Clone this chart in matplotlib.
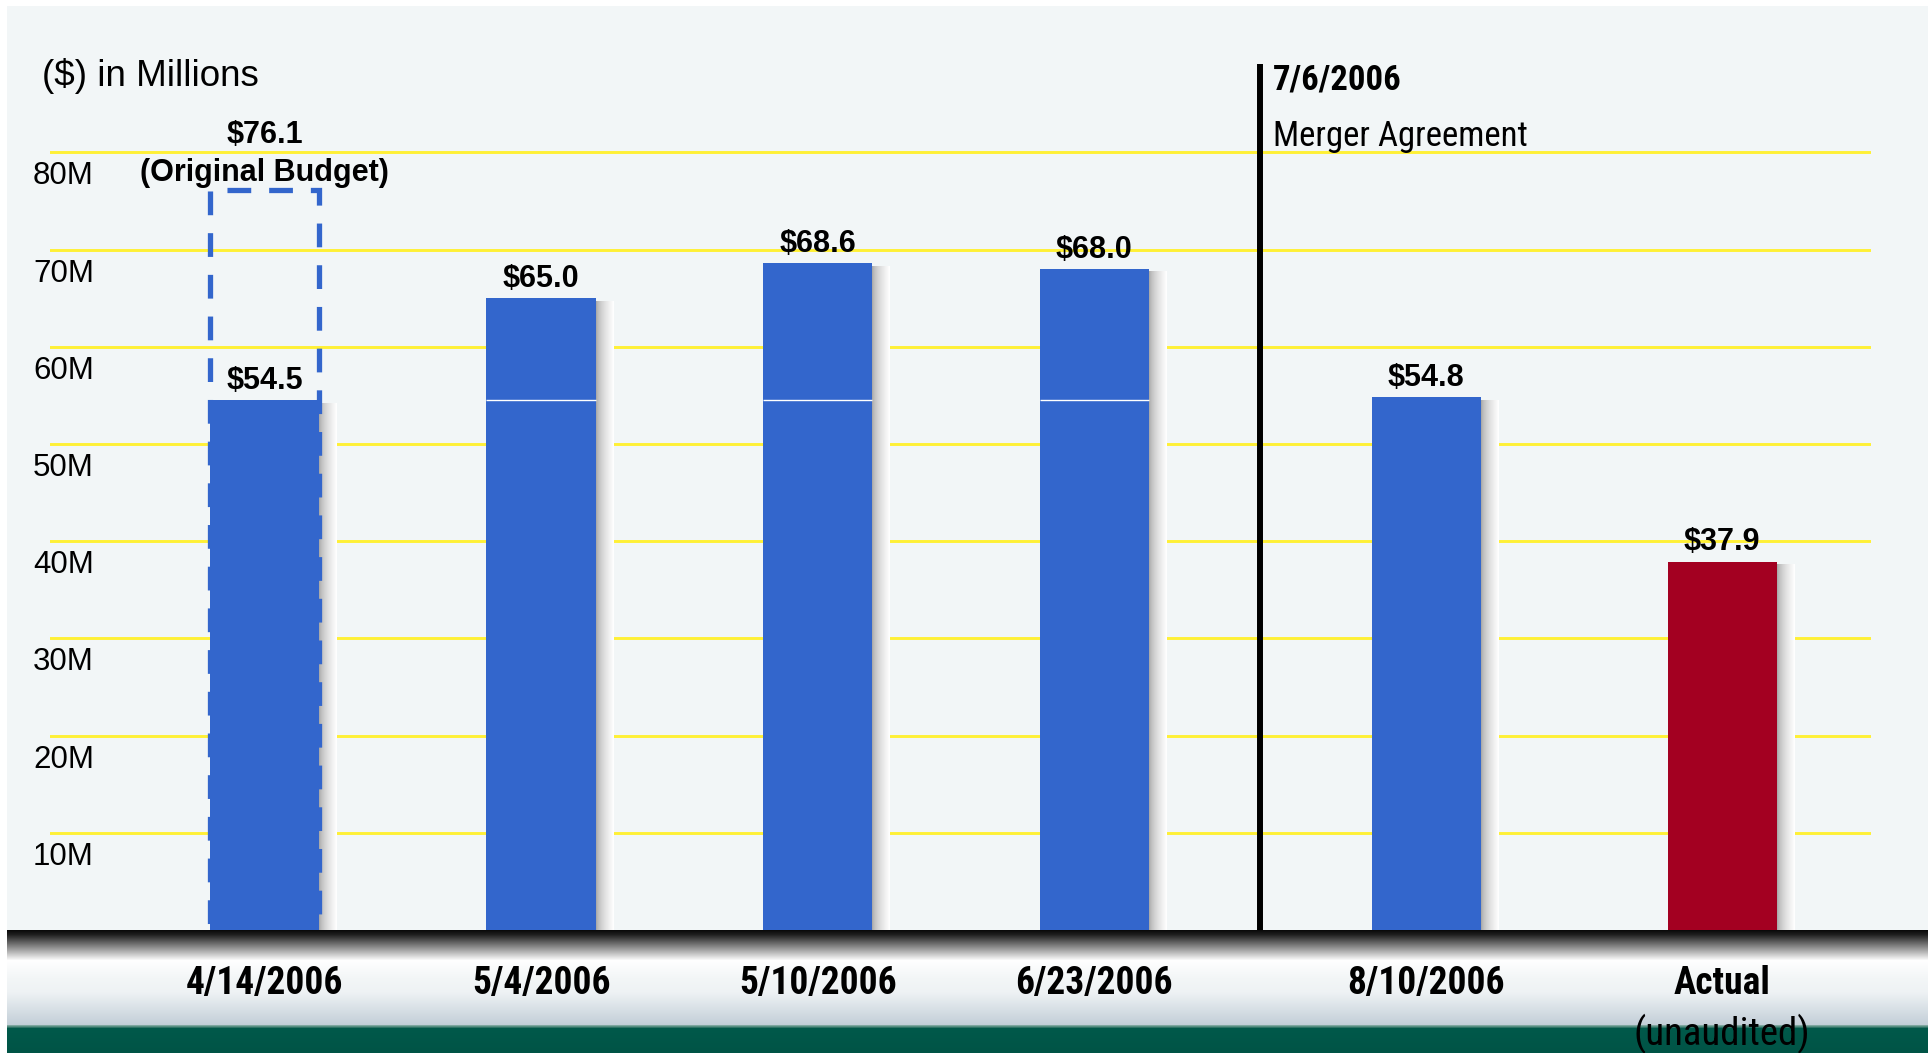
import numpy as np
import matplotlib.pyplot as plt
import matplotlib.transforms as mtransforms
from matplotlib.patches import Rectangle
from matplotlib.colors import LinearSegmentedColormap, to_rgb

# data
dates = ['4/14/2006', '5/4/2006', '5/10/2006', '6/23/2006', '8/10/2006', 'Actual']
values = [54.5, 65.0, 68.6, 68.0, 54.8, 37.9]
original_budget = 76.1
grid_vals = [10, 20, 30, 40, 50, 60, 70, 80]
tick_labels = ['10M', '20M', '30M', '40M', '50M', '60M', '70M', '80M']
merger_date = '7/6/2006'

# layout
x_pos = [0, 1, 2, 3, 4.2, 5.27]
merger_x = 3.6
bar_w = 0.395
bar_colors = ['#3366CC'] * 5 + ['#A30021']

NARROW = ['Roboto Condensed', 'PT Sans Narrow', 'Liberation Sans', 'DejaVu Sans']
SANS = ['Liberation Sans', 'DejaVu Sans']

W, H = 1933, 1053
fig = plt.figure(figsize=(W / 100, H / 100), dpi=100, facecolor='white')


def fbox(x0, y0, x1, y1):
    # pixel box measured from the top-left corner -> figure fraction
    return [x0 / W, 1 - y1 / H, (x1 - x0) / W, (y1 - y0) / H]


# light panel behind the chart
bg = fig.add_axes(fbox(7, 6, 1928, 930))
bg.set_facecolor('#F2F6F7')
bg.set_xticks([])
bg.set_yticks([])
for s in bg.spines.values():
    s.set_visible(False)

# bottom band: black shade -> white -> grey-blue -> green
stops = [(0, '#0A0A0A'), (4, '#1E1E1E'), (30, '#FFFFFF'), (48, '#F3F6F7'),
         (62, '#EEF2F4'), (94, '#C3CFD8'), (95, '#7FA89F'), (97, '#2F7566'),
         (98, '#00594A'), (123, '#005446')]
rows = np.arange(123)
sp = [p for p, c in stops]
cols = np.array([to_rgb(c) for p, c in stops])
grad = np.stack([np.interp(rows, sp, cols[:, k]) for k in range(3)], axis=-1)[:, None, :]
band = fig.add_axes(fbox(7, 930, 1928, 1053))
band.axis('off')
band.imshow(grad, aspect='auto', extent=[0, 1, 0, 1], interpolation='bilinear')
band.set_xlim(0, 1)
band.set_ylim(0, 1)

# main chart
ax = fig.add_axes(fbox(50, 64, 1871, 930))
ax.set_facecolor('none')
for s in ax.spines.values():
    s.set_visible(False)
ax.set_yticks(grid_vals)
ax.set_xticks([])
ax.yaxis.grid(True, color='#FFF035', lw=2.1)
ax.set_axisbelow(True)
ax.tick_params(length=0, labelleft=False, labelbottom=False)

ax.bar(x_pos, values, width=bar_w, color=bar_colors, zorder=3)

# soft shadow on the right of each bar
shadow_cmap = LinearSegmentedColormap.from_list('sh', ['#A4A4A4', '#FFFFFF'])
shade = (np.linspace(0, 1, 40) ** 0.6).reshape(1, -1)
for x, v in zip(x_pos, values):
    ax.imshow(shade, cmap=shadow_cmap, aspect='auto', interpolation='bilinear',
              extent=[x + bar_w / 2, x + bar_w / 2 + 0.062, 0, v - 0.3], zorder=2.5)

# thin seam where later estimates sit on top of the first one
for x in x_pos[1:4]:
    ax.hlines(values[0], x - bar_w / 2, x + bar_w / 2, color='white', lw=1, zorder=4)

# original budget dashed outline
ax.add_patch(Rectangle((x_pos[0] - bar_w / 2, 0), bar_w, original_budget, fill=False,
                       ec='#3366CC', lw=3.8, ls=(0, (4.5, 3.4)), zorder=4))
ax.annotate('(Original Budget)', (x_pos[0], original_budget), xytext=(0, 12.5),
            textcoords='offset points', ha='center', va='center', fontsize=22,
            fontweight='bold', family=SANS)
ax.annotate(f'${original_budget:.1f}', (x_pos[0], original_budget), xytext=(0, 40),
            textcoords='offset points', ha='center', va='center', fontsize=22,
            fontweight='bold', family=SANS)

for x, v in zip(x_pos, values):
    ax.annotate(f'${v:.1f}', (x, v), xytext=(0, 14), textcoords='offset points',
                ha='center', va='center', fontsize=22, fontweight='bold', family=SANS,
                zorder=5)

# merger agreement marker
ax.axvline(merger_x, color='black', lw=4.3, zorder=4)
mtrans = mtransforms.offset_copy(ax.transData, fig=fig, x=13, units='dots')
ax.text(merger_x, 87.5, merger_date, transform=mtrans, ha='left', va='center',
        fontsize=25, fontweight='bold', family=NARROW)
ax.text(merger_x, 81.6, 'Merger Agreement', transform=mtrans, ha='left', va='center',
        fontsize=25, family=NARROW)

# y labels sit a little below their grid lines
ytrans = mtransforms.offset_copy(ax.get_yaxis_transform(), fig=fig, y=-24, units='dots')
for v, lab in zip(grid_vals, tick_labels):
    ax.text(-0.0093, v, lab, transform=ytrans, ha='left', va='center', fontsize=22.5,
            family=SANS)

# x labels in the band
xtrans = mtransforms.offset_copy(ax.get_xaxis_transform(), fig=fig, y=-53, units='dots')
for x, lab in zip(x_pos, dates):
    ax.text(x, 0, lab, transform=xtrans, ha='center', va='center', fontsize=27,
            fontweight='bold', family=NARROW)
utrans = mtransforms.offset_copy(ax.get_xaxis_transform(), fig=fig, y=-104, units='dots')
ax.text(x_pos[-1], 0, '(unaudited)', transform=utrans, ha='center', va='center',
        fontsize=28, family=NARROW)

fig.text(42 / W, 1 - 76 / H, '($) in Millions', ha='left', va='center', fontsize=26.5,
         family=SANS)

ax.set_xlim(-0.775, 5.808)
ax.set_ylim(0, 89.1)

fig.savefig('out.png', dpi=100, facecolor='white')
